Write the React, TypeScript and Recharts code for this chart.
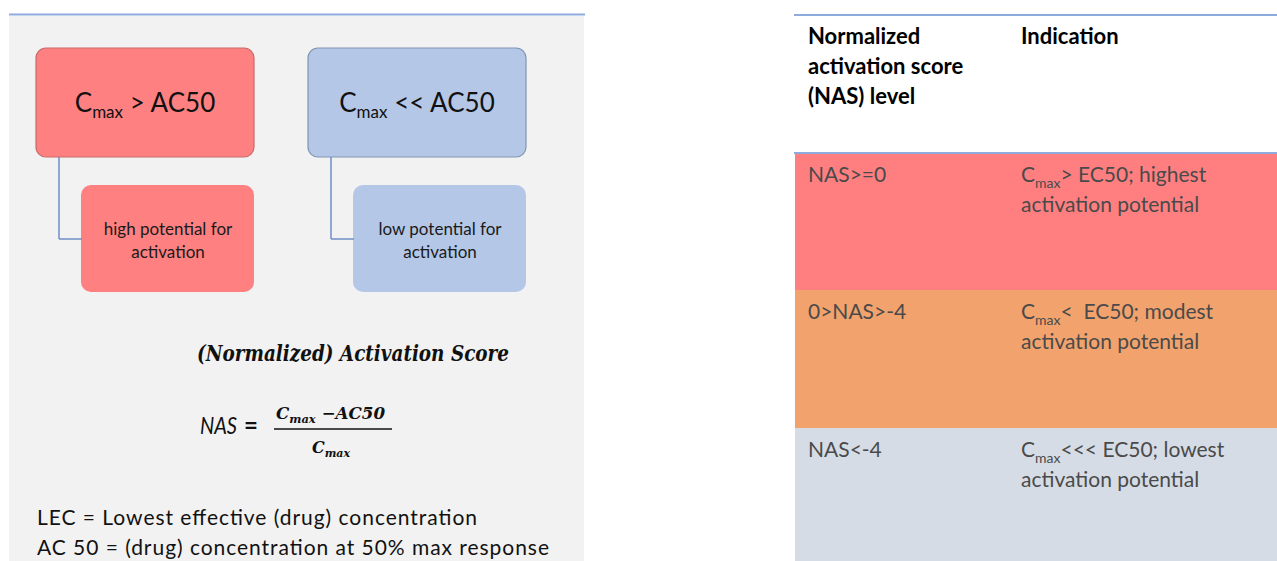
import { ComposedChart, ReferenceArea, ReferenceLine, XAxis, YAxis } from 'recharts';

// diagram content
const conditionOps = ['>', '<<'];
const conditionOutcomes = [
  ['high potential for', 'activation'],
  ['low potential for', 'activation'],
];
const scoreTitle = '(Normalized) Activation Score';
const formulaLeft = 'NAS';
const formulaTop = '\u2212AC50';
const definitions = [
  'LEC = Lowest effective (drug) concentration',
  'AC 50 = (drug) concentration at 50% max response',
];
const levelHeader = ['Normalized', 'activation score', '(NAS) level'];
const indicationHeader = 'Indication';
const nasLevels = ['NAS>=0', '0>NAS>-4', 'NAS<-4'];
const indicationOps = ['> EC50; highest', '<  EC50; modest', '<<< EC50; lowest'];
const indicationTail = 'activation potential';

const W = 1277;
const H = 561;
const FONT = 'Lato, Carlito, Calibri, sans-serif';
const SERIF = '"DejaVu Serif", "Liberation Serif", serif';
const boxFill = ['#ff8080', '#b4c7e7'];
const boxStroke = ['#c86a6a', '#8095b3'];
const bandFill = ['#ff7f80', '#f2a36d', '#d6dce5'];
const bandTop = [153, 290, 428, 561];

const at = (x: number, y: number) => ({ x1: x, x2: x + 1, y1: y, y2: y + 1 });

export default function App() {
  return (
    <div style={{ position: 'absolute', left: 0, top: 0, width: W, height: H, background: '#fff' }}>
      <ComposedChart width={W} height={H} data={[]} margin={{ top: 0, right: 0, bottom: 0, left: 0 }}>
        <XAxis type="number" dataKey="x" domain={[0, W]} hide allowDataOverflow />
        <YAxis type="number" dataKey="y" domain={[0, H]} reversed hide allowDataOverflow />

        {/* left panel */}
        <ReferenceArea x1={9} x2={584} y1={16} y2={H} shape={(p: any) => <rect x={p.x} y={p.y} width={p.width} height={p.height} fill="#f2f2f2" />} />
        <ReferenceLine segment={[{ x: 9, y: 14.5 }, { x: 585, y: 14.5 }]} stroke="#8faadc" strokeWidth={2} />

        {conditionOps.map((op, i) => {
          const dx = i * 272;
          return [
            <ReferenceLine key={`cv${i}`} segment={[{ x: 59 + dx, y: 157 }, { x: 59 + dx, y: 239 }]} stroke="#6f8fc6" strokeWidth={1.5} />,
            <ReferenceLine key={`ch${i}`} segment={[{ x: 59 + dx, y: 239 }, { x: 82 + dx, y: 239 }]} stroke="#6f8fc6" strokeWidth={1.5} />,
            <ReferenceArea key={`b${i}`} x1={36 + dx} x2={254 + dx} y1={48} y2={157}
              shape={(p: any) => <rect x={p.x} y={p.y} width={p.width} height={p.height} rx={10} fill={boxFill[i]} stroke={boxStroke[i]} strokeWidth={1.2} />} />,
            <ReferenceArea key={`s${i}`} x1={81 + dx} x2={254 + dx} y1={185} y2={292}
              shape={(p: any) => <rect x={p.x} y={p.y} width={p.width} height={p.height} rx={10} fill={boxFill[i]} />} />,
            <ReferenceArea key={`bt${i}`} {...at(145 + dx, 112)}
              shape={(p: any) => (
                <text x={p.x} y={p.y} textAnchor="middle" fontFamily={FONT} fontSize={26} fill="#111">
                  C<tspan fontSize={17} dy={6}>max</tspan><tspan dy={-6}>{` ${op} AC50`}</tspan>
                </text>
              )} />,
            ...conditionOutcomes[i].map((line, j) => (
              <ReferenceArea key={`st${i}${j}`} {...at(168 + dx, 235 + j * 23)}
                shape={(p: any) => (
                  <text x={p.x} y={p.y} textAnchor="middle" fontFamily={FONT} fontSize={17} fill="#1a1a1a">{line}</text>
                )} />
            )),
          ];
        })}

        <ReferenceArea {...at(197, 361)}
          shape={(p: any) => (
            <text x={p.x} y={p.y} fontFamily={SERIF} fontStyle="italic" fontWeight={700} fontSize={22} fill="#111"
              textLength={312} lengthAdjust="spacingAndGlyphs">{scoreTitle}</text>
          )} />

        {/* NAS formula */}
        <ReferenceArea {...at(200, 434)}
          shape={(p: any) => (
            <text x={p.x} y={p.y} fontFamily={FONT} fontStyle="italic" fontSize={24} fill="#111"
              textLength={37} lengthAdjust="spacingAndGlyphs">{formulaLeft}</text>
          )} />
        <ReferenceArea {...at(244, 434)}
          shape={(p: any) => (
            <text x={p.x} y={p.y} fontFamily={FONT} fontWeight={700} fontSize={24} fill="#111">=</text>
          )} />
        <ReferenceLine segment={[{ x: 274, y: 429 }, { x: 392, y: 429 }]} stroke="#111" strokeWidth={1.3} />
        <ReferenceArea {...at(276, 419)}
          shape={(p: any) => (
            <text x={p.x} y={p.y} fontFamily={SERIF} fontStyle="italic" fontWeight={700} fontSize={16} fill="#111"
              textLength={109} lengthAdjust="spacingAndGlyphs">
              C<tspan fontSize={11} dy={4}>max</tspan><tspan dy={-4}>{` ${formulaTop}`}</tspan>
            </text>
          )} />
        <ReferenceArea {...at(312, 453)}
          shape={(p: any) => (
            <text x={p.x} y={p.y} fontFamily={SERIF} fontStyle="italic" fontWeight={700} fontSize={16} fill="#111">
              C<tspan fontSize={11} dy={4}>max</tspan>
            </text>
          )} />

        {definitions.map((d, i) => (
          <ReferenceArea key={`d${i}`} {...at(37, 525 + i * 30)}
            shape={(p: any) => (
              <text x={p.x} y={p.y} fontFamily={FONT} fontSize={21} fill="#111" textLength={i === 0 ? 440 : 512}>{d}</text>
            )} />
        ))}

        {/* right table */}
        {nasLevels.map((_, i) => (
          <ReferenceArea key={`band${i}`} x1={795} x2={W} y1={bandTop[i]} y2={bandTop[i + 1]}
            shape={(p: any) => <rect x={p.x} y={p.y} width={p.width} height={p.height} fill={bandFill[i]} />} />
        ))}
        <ReferenceLine segment={[{ x: 794, y: 15 }, { x: W, y: 15 }]} stroke="#8faadc" strokeWidth={2} />
        <ReferenceLine segment={[{ x: 794, y: 153 }, { x: W, y: 153 }]} stroke="#8faadc" strokeWidth={2} />

        {levelHeader.map((h, i) => (
          <ReferenceArea key={`lh${i}`} {...at(808, 44 + i * 30)}
            shape={(p: any) => (
              <text x={p.x} y={p.y} fontFamily={FONT} fontWeight={700} fontSize={22} fill="#000">{h}</text>
            )} />
        ))}
        <ReferenceArea {...at(1021, 44)}
          shape={(p: any) => (
            <text x={p.x} y={p.y} fontFamily={FONT} fontWeight={700} fontSize={22} fill="#000">{indicationHeader}</text>
          )} />

        {nasLevels.map((lvl, i) => {
          const base = bandTop[i] + 29;
          return [
            <ReferenceArea key={`lv${i}`} {...at(808, base)}
              shape={(p: any) => (
                <text x={p.x} y={p.y} fontFamily={FONT} fontSize={21} fill="#4a4a4a">{lvl}</text>
              )} />,
            <ReferenceArea key={`in${i}`} {...at(1021, base)}
              shape={(p: any) => (
                <text x={p.x} y={p.y} fontFamily={FONT} fontSize={21} fill="#4a4a4a" xmlSpace="preserve">
                  C<tspan fontSize={14} dy={6}>max</tspan><tspan dy={-6}>{indicationOps[i]}</tspan>
                </text>
              )} />,
            <ReferenceArea key={`it${i}`} {...at(1021, base + 30)}
              shape={(p: any) => (
                <text x={p.x} y={p.y} fontFamily={FONT} fontSize={21} fill="#4a4a4a">{indicationTail}</text>
              )} />,
          ];
        })}
      </ComposedChart>
    </div>
  );
}
